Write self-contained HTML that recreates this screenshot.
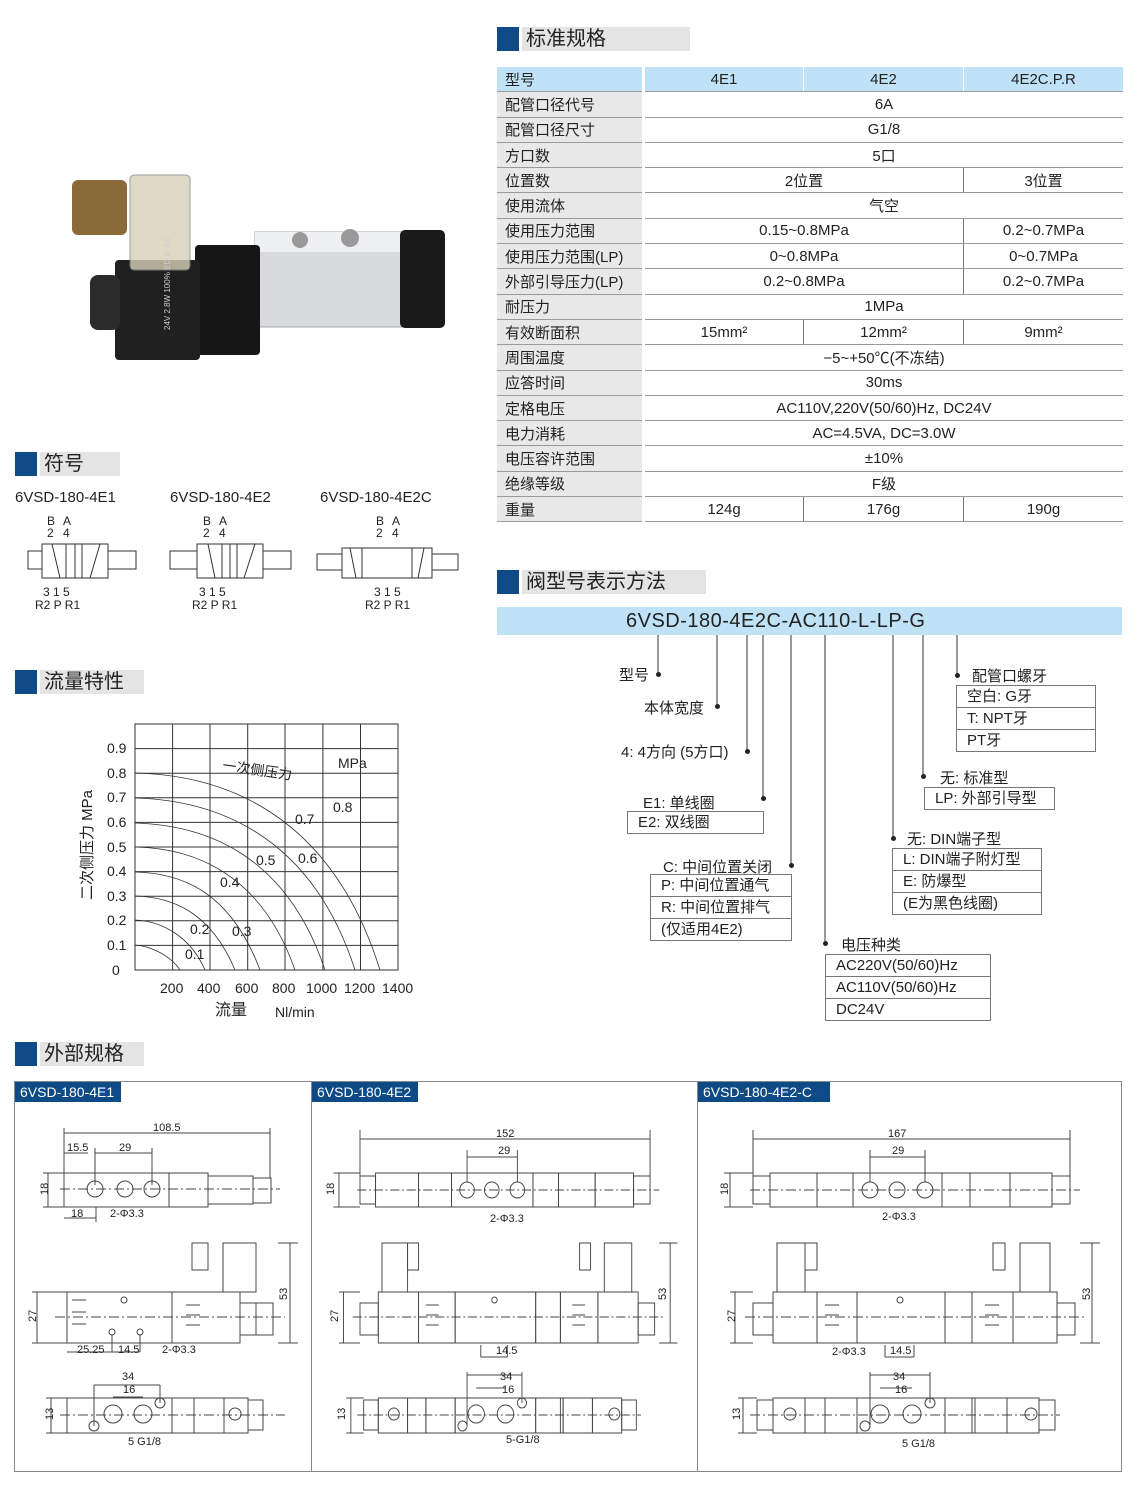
<!DOCTYPE html>
<html><head><meta charset="utf-8"><style>
body{margin:0;width:1140px;height:1504px;background:#fff;position:relative;overflow:hidden;font-family:"Liberation Sans","Noto Sans CJK SC",sans-serif;color:#222}
.a{position:absolute;white-space:nowrap}
.hd{position:absolute;height:24px}
.hd .b{position:absolute;left:0;top:0;width:22px;height:24px;background:#0d4a86}
.hd .g{position:absolute;left:25px;top:0;height:24px;background:#e4e4e4;font-size:20px;line-height:24px;padding-left:4px}
table{position:absolute;left:497px;top:67px;border-collapse:collapse;font-size:15px}
td{height:24.3px;padding:0;border-bottom:1.5px solid #9a9a9a;text-align:center}
td.l{background:#e8e8e8;text-align:left;padding-left:8px;width:137px;border-right:3px solid #fff}
tr.h td{background:#bfe2f6}
td.v{border-left:1px solid #777}
.bx{position:absolute;border:1px solid #777;font-size:15px}
.bx div{height:21px;line-height:21px;padding-left:10px;border-top:1px solid #777}
.bx div:first-child{border-top:none}
.dot{position:absolute;width:5px;height:5px;border-radius:50%;background:#222}
</style></head><body>

<!-- product photo -->
<svg class="a" style="left:60px;top:160px" width="390" height="220">
<rect x="195" y="72" width="150" height="95" fill="#d9dadc" stroke="#aaa"/>
<rect x="195" y="72" width="150" height="20" fill="#eeeff0"/>
<circle cx="240" cy="80" r="8" fill="#999"/><circle cx="290" cy="78" r="9" fill="#999"/>
<rect x="340" y="70" width="45" height="98" rx="5" fill="#1a1a1a"/>
<rect x="135" y="85" width="65" height="110" rx="4" fill="#161616"/>
<rect x="55" y="100" width="85" height="100" rx="4" fill="#202020"/>
<rect x="30" y="115" width="30" height="55" rx="8" fill="#2b2b2b"/>
<rect x="70" y="15" width="60" height="95" rx="4" fill="#d8d0b8" opacity=".8" stroke="#888"/>
<rect x="12" y="20" width="55" height="55" rx="6" fill="#8b6a3a"/>
<text x="110" y="170" font-size="8" fill="#ccc" transform="rotate(-90 110 170)">24V 2.8W 100% ED IP 65</text>
</svg>

<!-- 标准规格 -->
<div class="hd" style="left:497px;top:27px"><div class="b"></div><div class="g" style="width:164px">标准规格</div></div>
<table>
<tr class="h"><td class="l" style="background:#bfe2f6">型号</td><td style="width:158px;border-right:1px solid #fff">4E1</td><td style="width:159px;border-right:1px solid #fff">4E2</td><td style="width:159px">4E2C.P.R</td></tr>
<tr><td class="l">配管口径代号</td><td colspan="3">6A</td></tr>
<tr><td class="l">配管口径尺寸</td><td colspan="3">G1/8</td></tr>
<tr><td class="l">方口数</td><td colspan="3">5口</td></tr>
<tr><td class="l">位置数</td><td colspan="2">2位置</td><td class="v">3位置</td></tr>
<tr><td class="l">使用流体</td><td colspan="3">气空</td></tr>
<tr><td class="l">使用压力范围</td><td colspan="2">0.15~0.8MPa</td><td class="v">0.2~0.7MPa</td></tr>
<tr><td class="l">使用压力范围(LP)</td><td colspan="2">0~0.8MPa</td><td class="v">0~0.7MPa</td></tr>
<tr><td class="l">外部引导压力(LP)</td><td colspan="2">0.2~0.8MPa</td><td class="v">0.2~0.7MPa</td></tr>
<tr><td class="l">耐压力</td><td colspan="3">1MPa</td></tr>
<tr><td class="l">有效断面积</td><td>15mm²</td><td class="v">12mm²</td><td class="v">9mm²</td></tr>
<tr><td class="l">周围温度</td><td colspan="3">−5~+50℃(不冻结)</td></tr>
<tr><td class="l">应答时间</td><td colspan="3">30ms</td></tr>
<tr><td class="l">定格电压</td><td colspan="3">AC110V,220V(50/60)Hz, DC24V</td></tr>
<tr><td class="l">电力消耗</td><td colspan="3">AC=4.5VA, DC=3.0W</td></tr>
<tr><td class="l">电压容许范围</td><td colspan="3">±10%</td></tr>
<tr><td class="l">绝缘等级</td><td colspan="3">F级</td></tr>
<tr><td class="l">重量</td><td>124g</td><td class="v">176g</td><td class="v">190g</td></tr>
</table>

<!-- 符号 -->
<div class="hd" style="left:15px;top:452px"><div class="b"></div><div class="g" style="width:76px">符号</div></div>
<div class="a" style="left:15px;top:489px;font-size:15px">6VSD-180-4E1</div>
<div class="a" style="left:170px;top:489px;font-size:15px">6VSD-180-4E2</div>
<div class="a" style="left:320px;top:489px;font-size:15px">6VSD-180-4E2C</div>
<svg class="a" style="left:10px;top:510px" width="460" height="110" font-size="12" fill="none" stroke="#333" stroke-width="1">
<g fill="#222" stroke="none"><text x="37" y="15">B</text><text x="53" y="15">A</text><text x="37" y="27">2</text><text x="53" y="27">4</text>
<text x="33" y="86">3 1 5</text><text x="25" y="99">R2 P R1</text>
<text x="193" y="15">B</text><text x="209" y="15">A</text><text x="193" y="27">2</text><text x="209" y="27">4</text>
<text x="189" y="86">3 1 5</text><text x="182" y="99">R2 P R1</text>
<text x="366" y="15">B</text><text x="382" y="15">A</text><text x="366" y="27">2</text><text x="382" y="27">4</text>
<text x="364" y="86">3 1 5</text><text x="355" y="99">R2 P R1</text></g>
<rect x="32" y="34" width="66" height="34"/><line x1="65" y1="34" x2="65" y2="68"/><rect x="18" y="41" width="14" height="18"/><rect x="98" y="41" width="28" height="18"/>
<line x1="42" y1="34" x2="50" y2="68"/><line x1="56" y1="34" x2="56" y2="68"/><line x1="72" y1="34" x2="72" y2="68"/><line x1="80" y1="68" x2="90" y2="34"/>
<rect x="187" y="34" width="66" height="34"/><line x1="220" y1="34" x2="220" y2="68"/><rect x="160" y="41" width="27" height="18"/><rect x="253" y="41" width="28" height="18"/>
<line x1="198" y1="34" x2="205" y2="68"/><line x1="212" y1="34" x2="212" y2="68"/><line x1="227" y1="34" x2="227" y2="68"/><line x1="234" y1="68" x2="245" y2="34"/>
<rect x="332" y="38" width="90" height="30"/><line x1="352" y1="38" x2="352" y2="68"/><line x1="402" y1="38" x2="402" y2="68"/><rect x="307" y="44" width="25" height="16"/><rect x="422" y="44" width="26" height="16"/>
<line x1="340" y1="38" x2="346" y2="68"/><line x1="408" y1="68" x2="414" y2="38"/>
</svg>

<!-- 流量特性 -->
<div class="hd" style="left:15px;top:670px"><div class="b"></div><div class="g" style="width:100px">流量特性</div></div>
<svg class="a" style="left:70px;top:720px" width="380" height="310" font-size="14" fill="#222">
<g stroke="#333" stroke-width="1" fill="none">
<rect x="65" y="4" width="263" height="246"/>
<path d="M102.6 4V250M140 4V250M177.7 4V250M215 4V250M252.9 4V250M290.5 4V250"/>
<path d="M65 28.6H328M65 53.2H328M65 77.8H328M65 102.4H328M65 127H328M65 151.6H328M65 176.2H328M65 200.8H328M65 225.4H328"/>
<path d="M65 53 C150 55 260 90 310 250" stroke-width=".8"/>
<path d="M65 78 C140 80 240 110 285 250" stroke-width=".8"/>
<path d="M65 103 C130 105 215 130 255 250" stroke-width=".8"/>
<path d="M65 127 C120 128 190 150 225 250" stroke-width=".8"/>
<path d="M65 152 C110 153 160 170 190 250" stroke-width=".8"/>
<path d="M65 176 C100 177 140 190 165 250" stroke-width=".8"/>
<path d="M65 200 C90 201 120 215 135 250" stroke-width=".8"/>
<path d="M65 225 C80 226 100 235 110 250" stroke-width=".8"/>
</g>
<text x="37" y="33">0.9</text><text x="37" y="58">0.8</text><text x="37" y="82">0.7</text><text x="37" y="107">0.6</text><text x="37" y="132">0.5</text><text x="37" y="156">0.4</text><text x="37" y="181">0.3</text><text x="37" y="205">0.2</text><text x="37" y="230">0.1</text><text x="42" y="255">0</text>
<text x="90" y="273">200</text><text x="127" y="273">400</text><text x="165" y="273">600</text><text x="202" y="273">800</text><text x="236" y="273">1000</text><text x="274" y="273">1200</text><text x="312" y="273">1400</text>
<text x="145" y="295" font-size="16">流量</text><text x="205" y="297">Nl/min</text>
<text x="268" y="48">MPa</text><text x="152" y="50" transform="rotate(8 152 50)">一次侧压力</text>
<text x="263" y="92">0.8</text><text x="225" y="104">0.7</text><text x="228" y="143">0.6</text><text x="186" y="145">0.5</text><text x="150" y="167">0.4</text><text x="162" y="216">0.3</text><text x="120" y="214">0.2</text><text x="115" y="239">0.1</text>
<text x="22" y="180" font-size="15" transform="rotate(-90 22 180)">二次侧压力 MPa</text>
</svg>

<!-- 阀型号表示方法 -->
<div class="hd" style="left:497px;top:570px"><div class="b"></div><div class="g" style="width:180px">阀型号表示方法</div></div>
<div class="a" style="left:497px;top:607px;width:625px;height:28px;background:#bfe2f6;font-size:20px;line-height:28px;text-indent:129px;letter-spacing:.5px">6VSD-180-4E2C-AC110-L-LP-G</div>
<svg class="a" style="left:0;top:0" width="1140" height="1040"><g stroke="#333" stroke-width="1">
<path d="M658 635V674M717 635V706M747 635V751M763 635V798M791 635V865M825 635V943M893 635V838M923 635V776M957 635V675"/></g></svg>
<div class="dot" style="left:656px;top:672px"></div><div class="dot" style="left:715px;top:704px"></div><div class="dot" style="left:745px;top:749px"></div><div class="dot" style="left:761px;top:796px"></div><div class="dot" style="left:789px;top:863px"></div><div class="dot" style="left:823px;top:941px"></div><div class="dot" style="left:891px;top:836px"></div><div class="dot" style="left:921px;top:774px"></div><div class="dot" style="left:955px;top:673px"></div>
<div class="a" style="left:619px;top:664px;font-size:15px">型号</div>
<div class="a" style="left:644px;top:697px;font-size:15px">本体宽度</div>
<div class="a" style="left:621px;top:741px;font-size:15px">4: 4方向 (5方口)</div>
<div class="a" style="left:643px;top:792px;font-size:15px">E1: 单线圈</div>
<div class="bx" style="left:627px;top:811px;width:135px"><div>E2: 双线圈</div></div>
<div class="a" style="left:663px;top:856px;font-size:15px">C: 中间位置关闭</div>
<div class="bx" style="left:650px;top:874px;width:140px"><div>P: 中间位置通气</div><div>R: 中间位置排气</div><div>(仅适用4E2)</div></div>
<div class="a" style="left:841px;top:934px;font-size:15px">电压种类</div>
<div class="bx" style="left:825px;top:954px;width:164px"><div>AC220V(50/60)Hz</div><div>AC110V(50/60)Hz</div><div>DC24V</div></div>
<div class="a" style="left:907px;top:828px;font-size:15px">无: DIN端子型</div>
<div class="bx" style="left:892px;top:848px;width:148px"><div>L: DIN端子附灯型</div><div>E: 防爆型</div><div>(E为黑色线圈)</div></div>
<div class="a" style="left:940px;top:767px;font-size:15px">无: 标准型</div>
<div class="bx" style="left:924px;top:787px;width:129px"><div>LP: 外部引导型</div></div>
<div class="a" style="left:972px;top:665px;font-size:15px">配管口螺牙</div>
<div class="bx" style="left:956px;top:685px;width:138px"><div>空白: G牙</div><div>T: NPT牙</div><div>PT牙</div></div>

<!-- 外部规格 -->
<div class="hd" style="left:15px;top:1042px"><div class="b"></div><div class="g" style="width:100px">外部规格</div></div>
<div class="a" style="left:14px;top:1081px;width:1108px;height:391px;border:1px solid #888;box-sizing:border-box"></div>
<div class="a" style="left:311px;top:1081px;width:1px;height:391px;background:#888"></div>
<div class="a" style="left:697px;top:1081px;width:1px;height:391px;background:#888"></div>
<div class="a" style="left:15px;top:1082px;width:106px;height:20px;background:#0d4a86;color:#fff;font-size:14px;line-height:20px;padding-left:5px;box-sizing:border-box">6VSD-180-4E1</div>
<div class="a" style="left:312px;top:1082px;width:106px;height:20px;background:#0d4a86;color:#fff;font-size:14px;line-height:20px;padding-left:5px;box-sizing:border-box">6VSD-180-4E2</div>
<div class="a" style="left:698px;top:1082px;width:132px;height:20px;background:#0d4a86;color:#fff;font-size:14px;line-height:20px;padding-left:5px;box-sizing:border-box">6VSD-180-4E2-C</div>

<svg class="a" style="left:0;top:0" width="1140" height="1504" font-size="11" fill="#222">
<defs>
<g id="p3" fill="none" stroke="#444" stroke-width="1">
 <!-- top -->
 <rect x="753" y="1176" width="17" height="28"/><rect x="770" y="1173" width="47" height="34"/><rect x="817" y="1173" width="36" height="34"/><rect x="853" y="1173" width="89" height="34"/><rect x="942" y="1173" width="28" height="34"/><rect x="970" y="1173" width="40" height="34"/><rect x="1010" y="1173" width="42" height="34"/><rect x="1052" y="1176" width="18" height="28"/>
 <circle cx="870" cy="1190" r="8"/><circle cx="897" cy="1190" r="8"/><circle cx="925" cy="1190" r="8"/>
 <path d="M753 1139H1070M753 1130V1176M1070 1130V1176M870 1157H925M870 1150V1182M925 1150V1182M730 1173V1207M724 1173H753M724 1207H753"/>
 <path d="M750 1190H1080" stroke-dasharray="10 3 2 3"/>
 <!-- side -->
 <rect x="753" y="1303" width="20" height="32"/><rect x="773" y="1292" width="44" height="51"/><rect x="817" y="1292" width="40" height="51"/><rect x="857" y="1292" width="88" height="51"/><rect x="945" y="1292" width="27" height="51"/><rect x="972" y="1292" width="41" height="51"/><rect x="1013" y="1292" width="44" height="51"/><rect x="1057" y="1303" width="18" height="32"/>
 <rect x="777" y="1243" width="28" height="49"/><rect x="805" y="1243" width="12" height="27"/><rect x="1020" y="1243" width="30" height="49"/><rect x="993" y="1243" width="12" height="27"/>
 <path d="M825 1305h14M825 1315h14M825 1325h14M985 1305h14M985 1315h14M985 1325h14"/>
 <circle cx="900" cy="1300" r="3"/>
 <path d="M1092 1243V1343M1080 1243H1100M1080 1343H1100M735 1292V1343M730 1292H753M730 1343H753M885 1345V1357M914 1345V1357M885 1357H914"/>
 <path d="M745 1317H1085" stroke-dasharray="10 3 2 3"/>
 <!-- bottom -->
 <rect x="757" y="1400" width="16" height="30"/><rect x="773" y="1398" width="32" height="35"/><rect x="805" y="1398" width="20" height="35"/><rect x="825" y="1398" width="32" height="35"/><rect x="857" y="1398" width="88" height="35"/><rect x="945" y="1398" width="30" height="35"/><rect x="975" y="1398" width="32" height="35"/><rect x="1007" y="1398" width="32" height="35"/><rect x="1039" y="1400" width="16" height="30"/>
 <circle cx="880" cy="1414" r="9"/><circle cx="912" cy="1414" r="9"/><circle cx="865" cy="1426" r="5"/><circle cx="930" cy="1403" r="5"/><circle cx="790" cy="1414" r="6"/><circle cx="1031" cy="1414" r="6"/>
 <path d="M870 1375H930M880 1388H912M870 1372V1426M930 1372V1403M743 1398V1433M738 1398H757M738 1433H757M972 1398V1433"/>
 <path d="M750 1415H1060" stroke-dasharray="10 3 2 3"/>
</g>
</defs>
<use href="#p3"/>
<use href="#p3" transform="translate(360,0) scale(0.915,1) translate(-753,0)"/>
<!-- panel1 -->
<g fill="none" stroke="#444" stroke-width="1">
 <rect x="64" y="1173" width="105" height="34"/><rect x="169" y="1173" width="39" height="34"/><rect x="208" y="1176" width="45" height="28"/><rect x="253" y="1178" width="18" height="25"/>
 <circle cx="95" cy="1189" r="8"/><circle cx="125" cy="1189" r="8"/><circle cx="152" cy="1189" r="8"/>
 <path d="M64 1133H270M64 1128V1173M270 1128V1178M64 1153H88M95 1153H152M95 1148V1185M152 1148V1185M48 1173V1207M43 1173H64M43 1207H64M64 1218H96M96 1207V1222"/>
 <path d="M60 1189H280" stroke-dasharray="10 3 2 3"/>
 <rect x="67" y="1292" width="105" height="51"/><rect x="172" y="1292" width="68" height="51"/><rect x="240" y="1303" width="16" height="32" /><rect x="256" y="1303" width="17" height="32"/>
 <rect x="223" y="1243" width="33" height="49"/><rect x="192" y="1243" width="16" height="27"/>
 <path d="M72 1300h14M72 1312h14M72 1324h14M186 1305h14M186 1315h14M186 1325h14M290 1243V1343M278 1243H298M278 1343H298M37 1292V1343M32 1292H67M32 1343H67M67 1352H140M112 1335V1352M140 1335V1352"/>
 <circle cx="124" cy="1300" r="3"/><circle cx="112" cy="1332" r="3"/><circle cx="140" cy="1332" r="3"/>
 <path d="M55 1317H285" stroke-dasharray="10 3 2 3"/>
 <rect x="67" y="1398" width="105" height="35"/><rect x="172" y="1398" width="22" height="35"/><rect x="194" y="1398" width="30" height="35"/><rect x="224" y="1398" width="24" height="35"/><rect x="248" y="1400" width="15" height="30"/>
 <circle cx="113" cy="1414" r="9"/><circle cx="143" cy="1414" r="9"/><circle cx="94" cy="1426" r="5"/><circle cx="160" cy="1403" r="5"/><circle cx="235" cy="1414" r="6"/>
 <path d="M94 1385H160M113 1397H143M94 1385V1426M160 1385V1403M51 1398V1433M46 1398H67M46 1433H67"/>
 <path d="M60 1415H285" stroke-dasharray="10 3 2 3"/>
</g>
<text x="153" y="1131">108.5</text><text x="67" y="1151">15.5</text><text x="119" y="1151">29</text><text x="71" y="1217">18</text><text x="110" y="1217">2-Φ3.3</text>
<text x="48" y="1195" transform="rotate(-90 48 1195)">18</text><text x="36" y="1322" transform="rotate(-90 36 1322)">27</text><text x="287" y="1300" transform="rotate(-90 287 1300)">53</text><text x="53" y="1420" transform="rotate(-90 53 1420)">13</text>
<text x="77" y="1353">25.25</text><text x="118" y="1353">14.5</text><text x="162" y="1353">2-Φ3.3</text><text x="122" y="1380">34</text><text x="123" y="1393">16</text><text x="128" y="1445">5 G1/8</text>
<text x="496" y="1137">152</text><text x="498" y="1154">29</text><text x="490" y="1222">2-Φ3.3</text><text x="496" y="1354">14.5</text><text x="500" y="1380">34</text><text x="502" y="1393">16</text><text x="506" y="1443">5-G1/8</text>
<text x="334" y="1195" transform="rotate(-90 334 1195)">18</text><text x="338" y="1322" transform="rotate(-90 338 1322)">27</text><text x="666" y="1300" transform="rotate(-90 666 1300)">53</text><text x="345" y="1420" transform="rotate(-90 345 1420)">13</text>
<text x="888" y="1137">167</text><text x="892" y="1154">29</text><text x="882" y="1220">2-Φ3.3</text><text x="832" y="1355">2-Φ3.3</text><text x="890" y="1354">14.5</text><text x="893" y="1380">34</text><text x="895" y="1393">16</text><text x="902" y="1447">5 G1/8</text>
<text x="728" y="1195" transform="rotate(-90 728 1195)">18</text><text x="735" y="1322" transform="rotate(-90 735 1322)">27</text><text x="1090" y="1300" transform="rotate(-90 1090 1300)">53</text><text x="740" y="1420" transform="rotate(-90 740 1420)">13</text>
</svg>
</body></html>
